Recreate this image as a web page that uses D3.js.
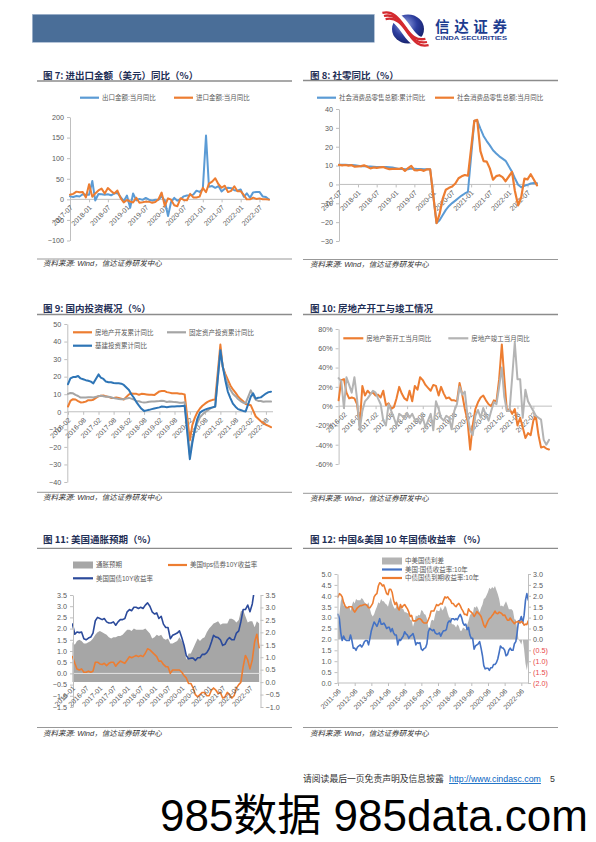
<!DOCTYPE html>
<html><head><meta charset="utf-8">
<script src="https://cdn.jsdelivr.net/npm/d3@7"></script>
<style>
body{margin:0;background:#fff;}
svg{display:block;}
</style></head><body>
<script>
// ================= DATA =================
// Chart 7: exports / imports YoY (%), monthly from 2017-07
const start7 = "2017-07";
const xTicks7 = ["2017-07","2018-01","2018-07","2019-01","2019-07","2020-01","2020-07","2021-01","2021-07","2022-01","2022-07"];
const yTicks7 = [-100,-50,0,50,100,150,200];
const export7 = [7.2,5.5,8.1,6.9,12.3,10.9,
 11.1,44.5,-2.7,12.9,12.6,11.3,12.2,9.8,14.5,15.6,5.4,-4.4,
 9.1,-20.7,14.2,-2.7,1.1,-1.3,3.3,-1.0,-3.2,-0.9,-1.1,7.6,
 -3.5,-40.6,-6.6,3.5,-3.3,0.5,7.2,9.5,9.9,11.4,21.1,18.1,
 24.7,154.9,30.6,32.3,27.9,32.2,19.3,25.6,28.1,27.1,22.0,20.9,
 24.1,6.2,14.7,3.9,16.9,17.9,18.0,7.1,5.7,-0.3];
const import7 = [11.0,13.3,18.7,17.2,17.7,4.5,
 36.9,6.3,14.4,21.5,26.0,14.1,27.3,20.0,14.3,21.4,3.0,-7.6,
 -1.5,-5.2,-7.6,4.0,-8.5,-7.3,-5.6,-5.6,-8.5,-6.4,0.3,16.5,
 -16.0,2.4,-0.9,-14.2,-16.7,2.7,-1.4,-2.1,13.2,4.7,4.5,6.5,
 28.0,17.3,38.1,43.1,51.1,36.7,28.1,33.1,17.6,20.6,31.7,19.5,
 19.9,10.0,-0.1,0.0,4.1,1.0,2.3,0.3,0.3,-0.7];

// Chart 8: retail sales YoY (%), monthly from 2017-07 (no January data)
const start8 = "2017-07";
const xTicks8 = ["2017-07","2018-01","2018-07","2019-01","2019-07","2020-01","2020-07","2021-01","2021-07","2022-01","2022-07"];
const yTicks8 = [-30,-20,-10,0,10,20,30,40];
const retailCum8 = [10.4,10.4,10.4,10.3,10.3,10.2,
 null,9.7,9.8,9.6,9.5,9.4,9.3,9.3,9.3,9.2,9.1,9.0,
 null,8.2,8.3,8.0,8.1,8.4,8.3,8.2,8.2,8.1,8.0,8.0,
 null,-20.5,-19.0,-16.2,-13.5,-11.4,-9.9,-8.6,-7.2,-5.9,-4.8,-3.9,
 null,33.8,33.9,29.6,25.7,23.0,20.7,18.1,16.4,14.9,13.7,12.5,
 null,6.7,3.3,-0.2,-1.5,-0.7,-0.2,0.5,0.7,0.6];
const retailMon8 = [10.4,10.1,10.3,10.0,10.2,9.4,
 null,9.7,10.1,9.4,8.5,9.0,8.8,9.0,9.2,8.6,8.1,8.2,
 null,8.2,8.7,7.2,8.6,9.8,7.6,7.5,7.8,7.2,8.0,8.0,
 null,-20.5,-15.8,-7.5,-2.8,-1.8,-1.1,0.5,3.3,4.3,5.0,4.6,
 null,33.8,34.2,17.7,12.4,12.1,8.5,2.5,4.4,4.9,3.9,1.7,
 null,6.7,-3.5,-11.1,-6.7,3.1,2.7,5.4,2.5,-0.5];

// Chart 9: investment cumulative YoY (%), monthly from 2016-02
const start9 = "2016-02";
const xTicks9 = ["2016-02","2016-08","2017-02","2017-08","2018-02","2018-08","2019-02","2019-08","2020-02","2020-08","2021-02","2021-08","2022-02","2022-08"];
const yTicks9 = [-40,-30,-20,-10,0,10,20,30,40,50];
const realEstate9 = [3.0,6.2,7.2,7.0,6.1,5.3,5.4,5.8,6.6,6.5,6.9,
 null,8.9,9.1,9.3,8.8,8.5,7.9,7.9,8.1,7.8,7.5,7.0,
 null,9.9,10.4,10.3,10.2,9.7,10.2,10.1,9.9,9.7,9.7,9.5,
 null,11.6,11.8,11.9,11.2,10.9,10.6,10.5,10.5,10.3,10.2,9.9,
 null,-16.3,-7.7,-3.3,-0.3,1.9,3.4,4.6,5.6,6.3,6.8,7.0,
 null,38.3,25.6,21.6,18.3,15.0,12.7,10.9,8.8,7.2,6.0,4.4,
 null,3.7,0.7,-2.7,-4.0,-5.4,-6.4,-7.4,-8.0,-8.8];
const fai9 = [10.2,10.7,10.5,9.6,9.0,8.1,8.1,8.2,8.3,8.3,8.1,
 null,8.9,9.2,8.9,8.6,8.6,8.3,7.8,7.5,7.3,7.2,7.2,
 null,7.9,7.5,7.0,6.1,6.0,5.5,5.3,5.4,5.7,5.9,5.9,
 null,6.1,6.3,6.1,5.6,5.8,5.7,5.5,5.4,5.2,5.2,5.4,
 null,-24.5,-16.1,-10.3,-6.3,-3.1,-1.6,-0.3,0.8,1.8,2.6,2.9,
 null,35.0,25.6,19.9,15.4,12.6,10.3,8.9,7.3,6.1,5.2,4.9,
 null,12.2,9.3,6.8,6.2,6.1,5.7,5.8,5.9,5.8];
const infra9 = [15.7,19.0,19.8,19.8,20.4,19.0,18.5,18.0,17.7,17.2,16.2,
 null,21.3,19.4,18.7,17.2,16.8,16.8,16.4,16.2,16.2,16.0,15.3,
 null,12.4,10.0,8.0,5.5,3.5,1.7,0.5,0.8,1.1,1.5,1.9,
 null,2.5,3.0,2.8,2.6,2.8,3.0,3.0,3.1,3.2,3.3,3.4,
 null,-27.0,-18.0,-10.0,-4.0,-0.5,0.5,1.2,1.8,2.2,2.5,3.0,
 null,35.0,26.0,18.0,11.5,7.8,4.6,2.9,1.5,1.0,0.5,0.2,
 null,8.6,10.5,7.5,8.0,8.2,9.3,10.4,11.2,11.4];

// Chart 10: new starts / completions monthly YoY (%), monthly from 2015-12
const start10 = "2015-12";
const xTicks10 = ["2016-02","2016-08","2017-02","2017-08","2018-02","2018-08","2019-02","2019-08","2020-02","2020-08","2021-02","2021-08","2022-02"];
const yTicks10 = [-60,-40,-20,0,20,40,60,80];
const newStarts10 = [6,27,28,14,8,9,8,2,-20,21,11,16,13,14,11,12,9,16,1,3,
 -3,-1,8,20,13,8,6,16,5,21,17,30,27,22,19,16,22,21,11,20,
 13,8,9,6,6,5,24,12,-3,-15,-45,-20,-3,4,9,11,6,2,0,6,
 5,28,64,30,-5,-3,-8,-3,-20,-12,-22,-33,-28,-30,-15,-10,-30,-43,-42,-44,-45];
const completions10 = [29,26,-2,30,22,14,30,8,-25,-5,5,8,12,16,14,8,2,-15,-20,2,
 -5,-12,-20,-8,-10,-12,-7,-12,-8,-14,-13,-18,-12,-22,-15,-8,-25,5,-3,-12,
 -15,-10,-12,-24,-5,2,20,12,15,-10,-25,-30,-10,-4,-12,-2,-9,-15,-5,4,
 2,20,40,10,-5,-5,30,66,28,28,-12,17,5,0,-5,-10,-12,-14,-35,-40,-35];

// Chart 11: US inflation expectations (%), monthly from 2016-01
const start11 = "2016-01";
const xTicks11 = ["2016-01","2016-07","2017-01","2017-07","2018-01","2018-07","2019-01","2019-07","2020-01","2020-07","2021-01","2021-07","2022-01","2022-07"];
const yTicksL11 = [-1.5,-1.0,-0.5,0,0.5,1.0,1.5,2.0,2.5,3.0,3.5];
const yTicksR11 = [-1.0,-0.5,0,0.5,1.0,1.5,2.0,2.5,3.0,3.5];
const breakeven11 = [1.6,1.5,1.65,1.7,1.65,1.55,1.55,1.6,1.65,1.75,1.9,2.0,
 2.05,2.0,1.95,1.9,1.8,1.75,1.8,1.8,1.85,1.85,1.9,2.0,
 2.1,2.1,2.05,2.15,2.1,2.1,2.1,2.1,2.15,2.05,1.95,1.75,
 1.8,1.9,1.85,1.9,1.75,1.7,1.75,1.55,1.55,1.6,1.65,1.8,
 1.65,1.45,0.9,1.15,1.15,1.35,1.55,1.75,1.65,1.75,1.8,2.0,
 2.15,2.25,2.35,2.4,2.45,2.3,2.35,2.35,2.35,2.55,2.55,2.5,
 2.4,2.5,2.85,2.9,2.65,2.4,2.45,2.45,2.2,2.45,2.35];
const tips11 = [0.75,0.45,0.2,0.15,0.2,0.05,0.05,0.1,0.05,0.1,0.5,0.5,
 0.42,0.4,0.45,0.35,0.45,0.5,0.5,0.32,0.45,0.55,0.5,0.45,
 0.6,0.75,0.7,0.75,0.8,0.75,0.8,0.75,0.9,1.1,1.05,0.95,
 0.85,0.75,0.55,0.55,0.4,0.3,0.3,0.0,0.15,0.15,0.15,0.15,
 0.05,-0.1,-0.2,-0.45,-0.45,-0.65,-0.95,-1.05,-0.95,-0.85,-0.85,-1.0,
 -1.0,-0.75,-0.65,-0.75,-0.9,-0.85,-1.1,-1.05,-0.85,-0.95,-1.1,-1.0,
 -0.65,-0.5,-0.4,0.3,0.8,0.6,0.2,0.6,1.4,1.75,1.15];
const ust11 = [2.2,1.75,1.85,1.82,1.85,1.55,1.5,1.58,1.62,1.8,2.35,2.5,
 2.45,2.4,2.45,2.3,2.25,2.25,2.3,2.15,2.3,2.4,2.4,2.45,
 2.75,2.85,2.8,2.95,2.95,2.9,2.95,2.9,3.05,3.15,3.0,2.75,
 2.65,2.7,2.45,2.55,2.2,2.05,2.05,1.55,1.7,1.75,1.8,1.9,
 1.6,1.25,0.8,0.65,0.68,0.68,0.58,0.7,0.7,0.85,0.85,0.93,
 1.1,1.4,1.7,1.62,1.6,1.5,1.25,1.3,1.5,1.6,1.5,1.5,
 1.8,1.9,2.3,2.85,2.85,3.05,2.75,3.1,3.8,4.1,3.8];

// Chart 12: China & US 10Y yields (%), monthly from 2011-06
const start12 = "2011-06";
const xTicks12 = ["2011-06","2012-06","2013-06","2014-06","2015-06","2016-06","2017-06","2018-06","2019-06","2020-06","2021-06","2022-06"];
const yTicksL12 = [0,0.5,1.0,1.5,2.0,2.5,3.0,3.5,4.0,4.5,5.0];
const yTicksR12 = [-2.0,-1.5,-1.0,-0.5,0,0.5,1.0,1.5,2.0,2.5,3.0];
const spread12 = [0.8,1.15,1.75,2.0,1.55,1.55,1.5,
 1.5,1.55,1.3,1.55,1.75,1.65,1.85,1.8,1.8,1.8,1.9,1.83,
 1.7,1.65,1.6,1.7,1.4,1.15,1.05,1.15,1.35,1.5,1.7,1.65,
 1.85,1.75,1.75,1.65,1.6,1.5,1.75,1.95,1.65,1.5,1.4,1.5,
 1.7,1.35,1.65,1.4,1.4,1.25,1.25,1.2,1.2,0.9,0.9,0.58,
 0.8,1.1,1.05,1.13,1.1,1.35,1.3,1.17,1.13,0.95,0.55,0.55,
 0.85,0.9,0.85,1.15,1.35,1.3,1.3,1.5,1.32,1.4,1.55,1.45,
 1.2,1.0,1.0,0.7,0.7,0.65,0.55,0.7,0.6,0.4,0.4,0.55,
 0.5,0.45,0.65,0.85,1.1,1.2,1.13,1.5,1.45,1.53,1.4,1.25,
 1.45,1.6,1.85,1.9,2.02,2.17,2.37,2.3,2.4,2.33,2.45,2.27,
 2.08,1.85,1.52,1.56,1.5,1.62,1.75,1.58,1.38,1.38,1.38,1.3,
 0.92,0.9,0.5,-0.02,-0.1,-0.23,0.03,-0.45,-1.1,-1.42,-0.95];
const us12 = [3.15,2.95,2.3,1.95,2.15,2.0,1.95,
 1.95,1.95,2.2,1.95,1.6,1.6,1.5,1.65,1.7,1.75,1.65,1.75,
 1.9,1.95,1.95,1.75,2.05,2.4,2.6,2.8,2.7,2.6,2.75,2.95,
 2.7,2.7,2.75,2.65,2.5,2.55,2.55,2.35,2.5,2.3,2.2,2.2,
 1.75,2.0,1.95,2.05,2.15,2.35,2.25,2.2,2.05,2.15,2.2,2.27,
 2.05,1.75,1.85,1.82,1.85,1.55,1.5,1.58,1.62,1.8,2.35,2.5,
 2.45,2.4,2.45,2.3,2.25,2.25,2.3,2.15,2.3,2.4,2.4,2.45,
 2.75,2.85,2.8,2.95,2.95,2.9,2.95,2.9,3.05,3.15,3.0,2.75,
 2.65,2.7,2.45,2.55,2.2,2.05,2.05,1.55,1.7,1.75,1.8,1.9,
 1.6,1.25,0.8,0.65,0.68,0.68,0.58,0.7,0.7,0.85,0.85,0.93,
 1.1,1.4,1.7,1.62,1.6,1.5,1.25,1.3,1.5,1.6,1.5,1.5,
 1.8,1.9,2.3,2.85,2.85,3.05,2.75,3.1,3.8,4.1,3.8];
const cn12 = [3.95,4.1,4.05,3.95,3.7,3.55,3.45,
 3.45,3.5,3.5,3.5,3.35,3.25,3.35,3.45,3.5,3.55,3.55,3.58,
 3.6,3.6,3.55,3.45,3.45,3.55,3.65,3.95,4.05,4.1,4.45,4.6,
 4.55,4.45,4.5,4.3,4.1,4.05,4.3,4.3,4.15,3.8,3.6,3.7,
 3.45,3.35,3.6,3.45,3.55,3.6,3.5,3.4,3.25,3.05,3.1,2.85,
 2.85,2.85,2.9,2.95,2.95,2.9,2.8,2.75,2.75,2.75,2.9,3.05,
 3.3,3.3,3.3,3.45,3.6,3.55,3.6,3.65,3.62,3.8,3.95,3.9,
 3.95,3.85,3.8,3.65,3.65,3.55,3.5,3.6,3.65,3.55,3.4,3.3,
 3.15,3.15,3.1,3.4,3.3,3.25,3.18,3.05,3.15,3.28,3.2,3.15,
 3.05,2.85,2.65,2.55,2.7,2.85,2.95,3.0,3.1,3.18,3.3,3.2,
 3.18,3.25,3.22,3.18,3.1,3.12,3.0,2.88,2.88,2.98,2.88,2.8,
 2.72,2.8,2.8,2.83,2.75,2.82,2.78,2.65,2.7,2.68,2.85];

// ================= DRAWING =================
const FONT = '"Liberation Sans", Arial, "Noto Sans CJK SC", sans-serif';
const CJK = '"Noto Sans CJK SC", "Liberation Sans", sans-serif';
const AX = "#bfbfbf", LBL = "#595959";
const BLUE = "#5b9bd5", ORANGE = "#ed7d31";
const parseM = d3.timeParse("%Y-%m");
const fmtM = d3.timeFormat("%Y-%m");

const svg = d3.select("body").append("svg").attr("width", 596).attr("height", 842)
  .attr("font-family", FONT);
const defs = svg.append("defs");

function series(start, vals) {
  const s = parseM(start);
  return vals.map((v, i) => ({date: d3.timeMonth.offset(s, i), v})).filter(d => d.v !== null);
}
function drawLine(data, x, y, color, w, clip) {
  const p = svg.append("path").datum(data).attr("fill", "none").attr("stroke", color)
    .attr("stroke-width", w).attr("stroke-linejoin", "round").attr("stroke-linecap", "round")
    .attr("d", d3.line().x(d => x(d.date)).y(d => y(d.v)));
  if (clip) p.attr("clip-path", `url(#${clip})`);
}
function drawArea(data, x, y, base, color) {
  svg.append("path").datum(data).attr("fill", color)
    .attr("d", d3.area().x(d => x(d.date)).y0(y(base)).y1(d => y(d.v)));
}
function styleAxis(g, fs) {
  g.attr("font-family", FONT).attr("font-size", fs || 7.2);
  g.select(".domain").attr("stroke", AX);
  g.selectAll(".tick line").attr("stroke", AX);
  g.selectAll(".tick text").attr("fill", LBL);
}
function yAxisLeft(scale, x, ticks, fmt) {
  const g = svg.append("g").attr("transform", `translate(${x},0)`)
    .call(d3.axisLeft(scale).tickValues(ticks).tickFormat(fmt).tickSize(3).tickSizeOuter(0).tickPadding(3));
  styleAxis(g);
  return g;
}
function yAxisRight(scale, x, ticks, fmt) {
  const g = svg.append("g").attr("transform", `translate(${x},0)`)
    .call(d3.axisRight(scale).tickValues(ticks).tickFormat(fmt).tickSize(3).tickSizeOuter(0).tickPadding(2));
  styleAxis(g);
  return g;
}
function xAxisRot(scale, y, ticks, tickLen, x1, x2, drawDomain, dy) {
  if (drawDomain) svg.append("line").attr("x1", x1).attr("x2", x2).attr("y1", y).attr("y2", y)
    .attr("stroke", AX).attr("stroke-width", 1);
  const g = svg.append("g").attr("transform", `translate(0,${y})`)
    .call(d3.axisBottom(scale).tickValues(ticks.map(parseM)).tickFormat(fmtM).tickSize(tickLen).tickSizeOuter(0));
  styleAxis(g, 7);
  g.select(".domain").remove();
  g.selectAll(".tick text").attr("text-anchor", "end").attr("x", 0).attr("y", 0).attr("dy", "0.35em")
    .attr("transform", `translate(1,${tickLen + (dy || 4)}) rotate(-45)`);
  return g;
}
function title(x, y, txt, x1, x2, ly) {
  svg.append("text").attr("x", x).attr("y", y).attr("font-family", CJK).attr("font-size", 9.5)
    .attr("font-weight", "bold").attr("fill", "#1f2f56").text(txt);
  svg.append("line").attr("x1", x1).attr("x2", x2).attr("y1", ly).attr("y2", ly)
    .attr("stroke", "#8c8c8c").attr("stroke-width", 1.3);
}
function source(x, y, x1, x2, ly) {
  svg.append("line").attr("x1", x1).attr("x2", x2).attr("y1", ly).attr("y2", ly)
    .attr("stroke", "#8c8c8c").attr("stroke-width", 0.9);
  svg.append("text").attr("x", x).attr("y", y).attr("font-size", 7.5).attr("font-style", "italic")
    .attr("fill", "#333").text("资料来源: Wind，信达证券研发中心");
}
function legendLine(x, y, color, txt, w) {
  svg.append("line").attr("x1", x).attr("x2", x + (w || 19)).attr("y1", y).attr("y2", y)
    .attr("stroke", color).attr("stroke-width", 2.2);
  svg.append("text").attr("x", x + (w || 19) + 3).attr("y", y + 2.3).attr("font-size", 6.5)
    .attr("fill", LBL).text(txt);
}
function legendRect(x, y, color, txt) {
  svg.append("rect").attr("x", x).attr("y", y - 3.5).attr("width", 20).attr("height", 7).attr("fill", color);
  svg.append("text").attr("x", x + 23).attr("y", y + 2.3).attr("font-size", 6.5)
    .attr("fill", LBL).text(txt);
}

// ---------- Header ----------
svg.append("rect").attr("x", 32.3).attr("y", 14.3).attr("width", 342).attr("height", 28)
  .attr("fill", "#4a6e98").attr("stroke", "#a9bbd2").attr("stroke-width", 0.6);
const rg = defs.append("radialGradient").attr("id", "logoG").attr("cx", "40%").attr("cy", "35%").attr("r", "70%");
rg.append("stop").attr("offset", "0%").attr("stop-color", "#9aa8e6");
rg.append("stop").attr("offset", "55%").attr("stop-color", "#2c3d9e");
rg.append("stop").attr("offset", "100%").attr("stop-color", "#141f66");
svg.append("ellipse").attr("cx", 408).attr("cy", 29).attr("rx", 16).attr("ry", 14.5).attr("fill", "url(#logoG)");
const swoosh = "M384,16 C396,13 402,24 408,32 C413,39 418,44 427,42";
svg.append("path").attr("d", swoosh).attr("fill", "none").attr("stroke", "#fff").attr("stroke-width", 11);
[[-1.6, -3.2], [0, 0], [1.6, 3.2]].forEach(([dx, dy]) => {
  svg.append("path").attr("d", swoosh).attr("transform", `translate(${dx},${dy})`)
    .attr("fill", "none").attr("stroke", "#d42a2f").attr("stroke-width", 2.3);
});
svg.append("text").attr("x", 435).attr("y", 32).attr("font-family", CJK).attr("font-size", 14.5)
  .attr("font-weight", "bold").attr("fill", "#1d3c8f").attr("textLength", 72).attr("lengthAdjust", "spacing").text("信达证券");
svg.append("text").attr("x", 435).attr("y", 40.3).attr("font-size", 6).attr("font-weight", "bold")
  .attr("fill", "#1d3c8f").attr("textLength", 72).attr("lengthAdjust", "spacingAndGlyphs").text("CINDA SECURITIES");

// ---------- Chart 7 ----------
{
  title(43, 78.5, "图 7: 进出口金额（美元）同比（%）", 37, 292, 81);
  legendLine(80, 97.7, BLUE, "出口金额:当月同比");
  legendLine(174, 97.7, ORANGE, "进口金额:当月同比");
  const x = d3.scaleTime().domain([parseM("2017-07"), parseM("2022-10")]).range([70, 269]);
  const y = d3.scaleLinear().domain([-100, 200]).range([240.5, 117]);
  yAxisLeft(y, 70, yTicks7, d3.format("d"));
  xAxisRot(x, y(0), xTicks7, 3, 70, 270, true);
  drawLine(series(start7, export7), x, y, BLUE, 2);
  drawLine(series(start7, import7), x, y, ORANGE, 2);
  source(43, 266, 37, 292, 259);
}

// ---------- Chart 8 ----------
{
  title(310, 78.5, "图 8: 社零同比（%）", 303, 558, 80.5);
  legendLine(317, 97.7, BLUE, "社会消费品零售总额:累计同比");
  legendLine(435, 97.7, ORANGE, "社会消费品零售总额:当月同比");
  const x = d3.scaleTime().domain([parseM("2017-07"), parseM("2022-10")]).range([339, 537]);
  const y = d3.scaleLinear().domain([-30, 40]).range([241, 109]);
  yAxisLeft(y, 339, yTicks8, d3.format("d"));
  xAxisRot(x, y(0), xTicks8, 3, 339, 538, true);
  drawLine(series(start8, retailCum8), x, y, BLUE, 2);
  drawLine(series(start8, retailMon8), x, y, ORANGE, 2.2);
  source(310, 266.5, 303, 558, 259.5);
}

// ---------- Chart 9 ----------
{
  title(43, 311.8, "图 9: 国内投资概况（%）", 37, 292, 314.5);
  legendLine(73, 332.3, ORANGE, "房地产开发累计同比");
  legendLine(167, 332.3, "#a5a5a5", "固定资产投资累计同比");
  legendLine(73, 345.7, "#2e75b6", "基建投资累计同比");
  const x = d3.scaleTime().domain([parseM("2016-02"), parseM("2022-10")]).range([68, 271]);
  const y = d3.scaleLinear().domain([-40, 50]).range([482, 324]);
  yAxisLeft(y, 67.3, yTicks9, d3.format("d"));
  xAxisRot(x, y(0), xTicks9, 3, 67.3, 273, true);
  drawLine(series(start9, realEstate9), x, y, ORANGE, 2);
  drawLine(series(start9, fai9), x, y, "#a5a5a5", 2);
  drawLine(series(start9, infra9), x, y, "#2e75b6", 2);
  source(43, 499.5, 37, 292, 492.3);
}

// ---------- Chart 10 ----------
{
  title(310, 311.8, "图 10: 房地产开工与竣工情况", 303, 558, 314.5);
  legendLine(343.3, 338.3, ORANGE, "房地产新开工当月同比", 20);
  legendLine(448.3, 338.3, "#b4b4b4", "房地产竣工当月同比", 20);
  const x = d3.scaleTime().domain([parseM("2015-12"), parseM("2022-08")]).range([338.6, 549]);
  const y = d3.scaleLinear().domain([-60, 80]).range([464, 329]);
  yAxisLeft(y, 338.6, yTicks10, d => d + "%");
  xAxisRot(x, y(0), xTicks10, 3, 338.6, 552, true);
  drawLine(series(start10, newStarts10), x, y, ORANGE, 2);
  drawLine(series(start10, completions10), x, y, "#b4b4b4", 2);
  source(310, 501, 303, 558, 493.3);
}

// ---------- Chart 11 ----------
{
  title(43, 542.5, "图 11: 美国通胀预期（%）", 37, 292, 548.3);
  legendRect(73, 565, "#a6a6a6", "通胀预期");
  legendLine(168, 565, ORANGE, "美国tips债券10Y收益率");
  legendLine(73, 578.3, "#2b4a9b", "美国国债10Y收益率", 20);
  const x = d3.scaleTime().domain([parseM("2016-01"), parseM("2022-12")]).range([72.5, 261.4]);
  const yL = d3.scaleLinear().domain([-1.5, 3.5]).range([707, 595]);
  const yR = d3.scaleLinear().domain([-1.0, 3.5]).range([707, 595]);
  defs.append("clipPath").attr("id", "clip11").append("rect")
    .attr("x", 72).attr("y", 595).attr("width", 192).attr("height", 112);
  drawArea(series(start11, breakeven11), x, yR, 0, "#a6a6a6");
  svg.append("line").attr("x1", 73).attr("x2", 260.5).attr("y1", yL(0)).attr("y2", yL(0))
    .attr("stroke", "#e4e4e4").attr("stroke-width", 1);
  drawLine(series(start11, ust11), x, yL, "#2b4a9b", 1.6, "clip11");
  drawLine(series(start11, tips11), x, yL, ORANGE, 1.6, "clip11");
  yAxisLeft(yL, 73, yTicksL11, d3.format(".1f"));
  yAxisRight(yR, 260.5, yTicksR11, d3.format(".1f"));
  xAxisRot(x, yR(0), xTicks11, 0, 73, 260, false, 5);
  source(43, 735.5, 37, 292, 727.5);
}

// ---------- Chart 12 ----------
{
  title(310, 542.5, "图 12: 中国&美国 10 年国债收益率 （%）", 303, 558, 548.3);
  legendRect(382, 561, "#b4b4b4", "中美国债利差");
  legendLine(382, 569.5, "#4472c4", "美国:国债收益率:10年", 20);
  legendLine(382, 578, ORANGE, "中债国债到期收益率:10年", 20);
  const x = d3.scaleTime().domain([parseM("2011-06"), parseM("2022-06")]).range([338, 521.3]);
  const yL = d3.scaleLinear().domain([0, 5]).range([683, 574]);
  const yR = d3.scaleLinear().domain([-2, 3]).range([683, 574]);
  drawArea(series(start12, spread12), x, yR, 0, "#b4b4b4");
  drawLine(series(start12, us12), x, yL, "#4472c4", 1.6);
  drawLine(series(start12, cn12), x, yL, ORANGE, 1.6);
  yAxisLeft(yL, 337.5, yTicksL12, d3.format(".1f"));
  const gr = yAxisRight(yR, 528, yTicksR12, d => d < 0 ? "(" + d3.format(".1f")(-d) + ")" : d3.format(".1f")(d));
  gr.selectAll(".tick text").attr("fill", d => d < 0 ? "#e8454a" : LBL);
  xAxisRot(x, 683, xTicks12, 3, 337.5, 528, true);
  source(310, 735.5, 303, 558, 727.5);
}

// ---------- Footer ----------
svg.append("text").attr("x", 303).attr("y", 782).attr("font-family", CJK).attr("font-size", 8.8)
  .attr("fill", "#333").text("请阅读最后一页免责声明及信息披露");
svg.append("text").attr("x", 449).attr("y", 782).attr("font-size", 8.8).attr("fill", "#0563c1")
  .attr("text-decoration", "underline").text("http://www.cindasc.com");
svg.append("text").attr("x", 550).attr("y", 782).attr("font-size", 8.8).attr("fill", "#333").text("5");
svg.append("text").attr("x", 588).attr("y", 831).attr("text-anchor", "end").attr("font-size", 44)
  .attr("fill", "#000").text("985数据 985data.com");
</script></body></html>
